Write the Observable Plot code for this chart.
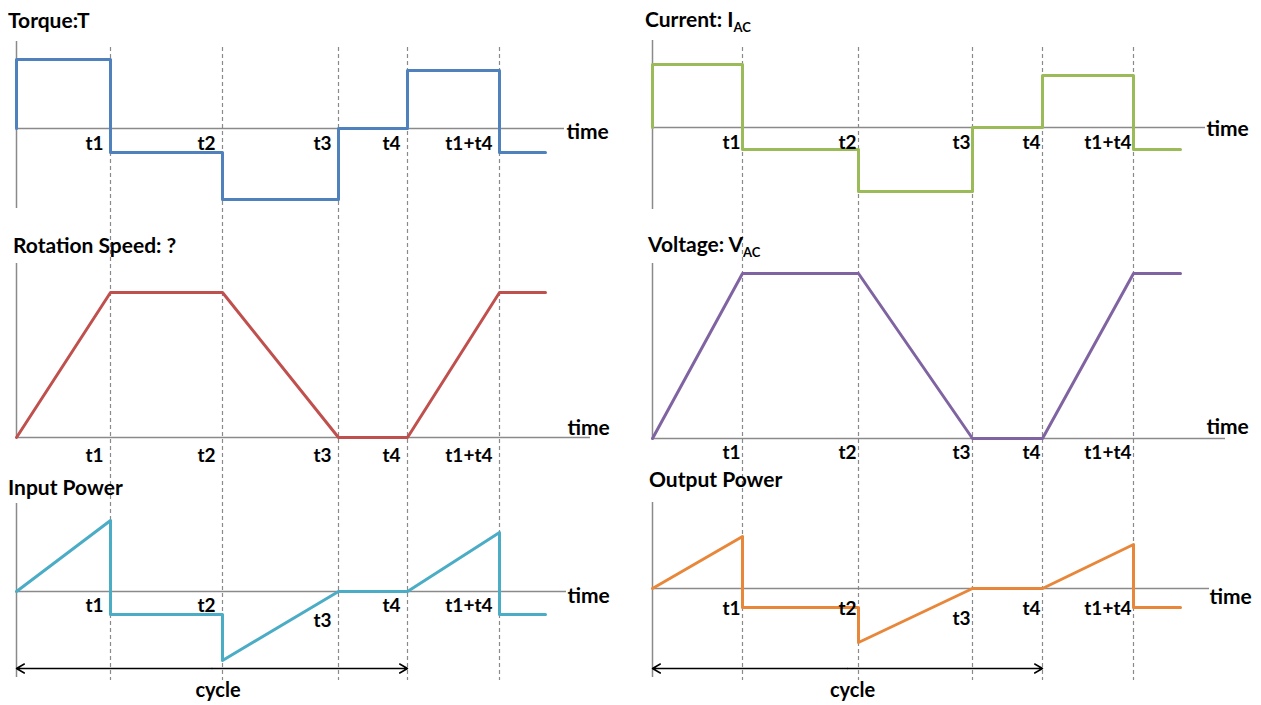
<!DOCTYPE html>
<html>
<head>
<meta charset="utf-8">
<script src="https://cdn.jsdelivr.net/npm/d3@7"></script>
<script src="https://cdn.jsdelivr.net/npm/@observablehq/plot@0.6"></script>
<style>
  html, body { margin: 0; padding: 0; background: #fff; overflow: hidden; }
  #chart { position: relative; width: 1261px; height: 705px; font-family: Lato, sans-serif; }
  #chart svg { position: absolute; left: 0; top: 0; }
  .title { position: absolute; font-weight: bold; font-size: 21px; line-height: 21px; color: #000; white-space: nowrap; }
  .title sub { font-size: 13px; line-height: 0; vertical-align: -5px; }
</style>
</head>
<body>
<div id="chart"></div>
<script>
// ---------------- data (arbitrary units) ----------------
const tickLabels = ["t1", "t2", "t3", "t4", "t1+t4"];
// instants: origin, t1, t2, t3, t4, t1+t4, end of trace
const timesLeft  = [0, 94, 206, 322, 391, 483, 529];
const timesRight = [0, 90, 206, 320, 390, 481, 528];

// step levels held from each instant (origin..t1+t4)
const torqueLevels  = [69, -24, -71, 0, 58, -24];
const currentLevels = [63, -22, -64, 0, 52, -22];

// values at each instant (origin..end)
const speedValues   = [0, 145, 145, 0, 0, 145, 145];
const voltageValues = [0, 165, 165, 0, 0, 165, 165];

// power traces: index of instant for each knot, and value there
const powerKnots        = [0, 1, 1, 2, 2, 3, 4, 5, 5, 6];
const inputPowerValues  = [0, 71, -23, -23, -69, 0, 0, 59, -23, -23];
const outputPowerValues = [0, 52, -19, -19, -54, 0, 0, 44, -19, -19];

const titles = [
  {html: "Torque:T", x: 8, base: 28},
  {html: "Rotation Speed: ?", x: 13, base: 253},
  {html: "Input Power", x: 8, base: 495},
  {html: "Current: I<sub>AC</sub>", x: 645, base: 27},
  {html: "Voltage: V<sub>AC</sub>", x: 648, base: 252},
  {html: "Output Power", x: 649, base: 487}
];

// ---------------- helpers ----------------
const W = 1261, H = 705;
const chart = document.getElementById("chart");
const FONT = {fontFamily: "Lato", fontWeight: "bold", fontSize: 19, fill: "#000"};
const AXIS = "#8a8a8a";

function stepPoints(times, levels) {
  const pts = [{t: times[0], v: 0}];
  levels.forEach((v, i) => pts.push({t: times[i], v}));
  pts.push({t: times[times.length - 1], v: levels[levels.length - 1]});
  return pts;
}
function linePoints(times, values) {
  return values.map((v, i) => ({t: times[i], v}));
}
function knotPoints(times, values) {
  return values.map((v, i) => ({t: times[powerKnots[i]], v}));
}

function panel(o) {
  const times = o.times;
  const labels = tickLabels.map((label, i) => ({label, t: times[i + 1]}));
  const marks = [];
  if (o.grid) {
    marks.push(Plot.ruleX(times.slice(1, 6), {stroke: "#8a8a8a", strokeWidth: 1.2, strokeDasharray: "4,3"}));
  }
  marks.push(Plot.ruleY([0], {x1: 0, x2: o.axisEnd, stroke: AXIS, strokeWidth: 1.5}));
  marks.push(Plot.ruleX([0], {y1: o.yBottom, y2: o.yTop, stroke: AXIS, strokeWidth: 1.5}));
  marks.push(Plot.line(o.points, {x: "t", y: "v", curve: o.curve || "linear", stroke: o.color, strokeWidth: 3}));
  const t3Special = o.t3Dy !== undefined;
  marks.push(Plot.text(labels.filter(d => !(t3Special && d.label === "t3")), {
    x: "t", y: 0, text: "label", textAnchor: "end", dx: o.labelDx, dy: o.labelDy, ...FONT
  }));
  if (t3Special) {
    marks.push(Plot.text(labels.filter(d => d.label === "t3"), {
      x: "t", y: 0, text: "label", textAnchor: "end", dx: o.labelDx, dy: o.t3Dy, ...FONT
    }));
  }
  marks.push(Plot.text(["time"], {x: o.timeX, y: 0, text: d => d, textAnchor: "start", dy: o.timeDy, ...FONT, fontSize: 21}));
  if (o.cycleY !== undefined) {
    const mid = times[4] / 2;
    marks.push(Plot.arrow([{a: mid, b: 0}, {a: mid, b: times[4]}], {
      x1: "a", x2: "b", y1: o.cycleY, y2: o.cycleY, stroke: "#000", strokeWidth: 1.5, headLength: 9, headAngle: 60
    }));
    marks.push(Plot.text(["cycle"], {x: mid + o.cycleDx, y: o.cycleTextY, text: d => d, ...FONT, fontSize: 20}));
  }
  const svg = Plot.plot({
    width: W, height: H,
    marginTop: 47, marginBottom: 25, marginLeft: 0, marginRight: 0,
    x: {domain: [0, 600], range: [o.origin, o.origin + 600], axis: null},
    y: {domain: [-100, 200], range: [o.zero + 100, o.zero - 200], axis: null},
    style: {background: "transparent", overflow: "visible"},
    marks
  });
  chart.appendChild(svg);
}

// ---------------- left column ----------------
panel({times: timesLeft, origin: 16, zero: 128, grid: true,
  points: stepPoints(timesLeft, torqueLevels), curve: "step-after", color: "#4f81bd",
  yTop: 87, yBottom: -80, axisEnd: 548, timeX: 550, timeDy: 4, labelDx: -7, labelDy: 15});
panel({times: timesLeft, origin: 16, zero: 437,
  points: linePoints(timesLeft, speedValues), color: "#c0504d",
  yTop: 174, yBottom: 0, axisEnd: 574, timeX: 551, timeDy: -9, labelDx: -7, labelDy: 18});
panel({times: timesLeft, origin: 16, zero: 591,
  points: knotPoints(timesLeft, inputPowerValues), color: "#4bacc6",
  yTop: 88, yBottom: -86, axisEnd: 550, timeX: 551, timeDy: 5, labelDx: -7, labelDy: 14, t3Dy: 29,
  cycleY: -77, cycleTextY: -99, cycleDx: 6});

// ---------------- right column ----------------
panel({times: timesRight, origin: 652, zero: 127, grid: true,
  points: stepPoints(timesRight, currentLevels), curve: "step-after", color: "#9bbb59",
  yTop: 87, yBottom: -82, axisEnd: 553, timeX: 554, timeDy: 2, labelDx: -2, labelDy: 15});
panel({times: timesRight, origin: 652, zero: 438,
  points: linePoints(timesRight, voltageValues), color: "#8064a2",
  yTop: 175, yBottom: 0, axisEnd: 573, timeX: 554, timeDy: -11, labelDx: -2, labelDy: 14});
panel({times: timesRight, origin: 652, zero: 588,
  points: knotPoints(timesRight, outputPowerValues), color: "#e8873a",
  yTop: 86, yBottom: -89, axisEnd: 557, timeX: 557, timeDy: 9, labelDx: -2, labelDy: 20, t3Dy: 30,
  cycleY: -80, cycleTextY: -102, cycleDx: 5});

// ---------------- titles ----------------
for (const t of titles) {
  const div = document.createElement("div");
  div.className = "title";
  div.innerHTML = t.html;
  div.style.left = t.x + "px";
  div.style.top = (t.base - 19) + "px";
  chart.appendChild(div);
}
</script>
</body>
</html>
